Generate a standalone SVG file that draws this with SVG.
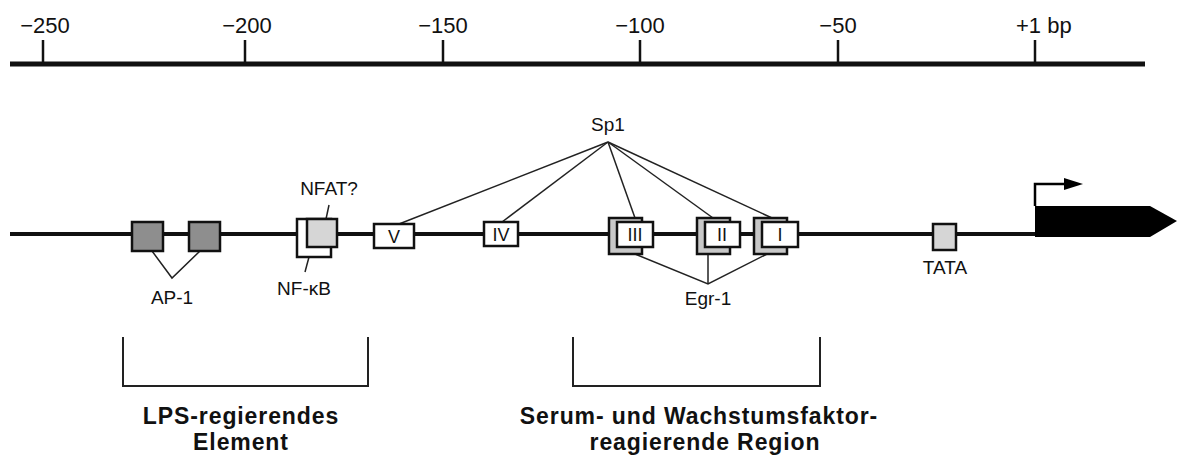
<svg xmlns="http://www.w3.org/2000/svg" width="1177" height="456" viewBox="0 0 1177 456">
<style>
text{font-family:"Liberation Sans",Arial,sans-serif;fill:#111}
.tick{font-size:22px}
.lbl{font-size:19px}
.rom{font-size:18px}
.big{font-size:23px;font-weight:bold;letter-spacing:0.9px}
.box{stroke:#111;stroke-width:2.5}
.thin{stroke:#222;stroke-width:1.5;fill:none}
</style>
<rect width="1177" height="456" fill="#fff"/>
<g id="ruler">
<line x1="10" y1="64" x2="1145" y2="64" stroke="#111" stroke-width="5"/>
<g stroke="#111" stroke-width="2.5">
<line x1="43" y1="40" x2="43" y2="64"/>
<line x1="245" y1="40" x2="245" y2="64"/>
<line x1="443" y1="40" x2="443" y2="64"/>
<line x1="640" y1="40" x2="640" y2="64"/>
<line x1="838" y1="40" x2="838" y2="64"/>
<line x1="1035" y1="40" x2="1035" y2="64"/>
</g>
<g class="tick" text-anchor="middle">
<text x="45" y="33">−250</text>
<text x="247" y="33">−200</text>
<text x="443" y="33">−150</text>
<text x="640" y="33">−100</text>
<text x="838" y="33">−50</text>
</g>
<text class="tick" x="1016" y="33">+1 bp</text>
</g>
<g id="dna">
<line x1="10" y1="234" x2="1037" y2="234" stroke="#111" stroke-width="4"/>
</g>
<g id="connectors">
<polyline class="thin" points="152,251 172,278 200,251"/>
<line class="thin" x1="329" y1="205" x2="326" y2="219"/>
<line class="thin" x1="309" y1="257" x2="305" y2="272"/>
<line class="thin" x1="608" y1="142" x2="399" y2="224"/>
<line class="thin" x1="608" y1="142" x2="502" y2="222"/>
<line class="thin" x1="608" y1="142" x2="635" y2="218"/>
<line class="thin" x1="608" y1="142" x2="713" y2="218"/>
<line class="thin" x1="608" y1="142" x2="772" y2="218"/>
<polyline class="thin" points="635,254 708,284 767,254"/>
<line class="thin" x1="708" y1="254" x2="708" y2="284"/>
</g>
<g id="ap1">
<rect class="box" x="132" y="222" width="31" height="29" fill="#8e8e8e"/>
<rect class="box" x="189" y="222" width="31" height="29" fill="#8e8e8e"/>
<text class="lbl" x="172" y="304" text-anchor="middle">AP-1</text>
</g>
<g id="nfkb">
<rect class="box" x="297" y="219" width="34" height="38" fill="#fff"/>
<text class="lbl" x="304" y="295" text-anchor="middle">NF-κB</text>
</g>
<g id="nfat">
<rect class="box" x="307" y="219" width="30" height="28" fill="#d6d6d6"/>
<text class="lbl" x="329" y="195" text-anchor="middle">NFAT?</text>
</g>
<g id="sp1-label">
<text class="lbl" x="608" y="131" text-anchor="middle">Sp1</text>
</g>
<g id="V">
<rect class="box" x="374" y="224" width="40" height="24" fill="#fff"/>
<text class="rom" x="394" y="243" text-anchor="middle">V</text>
</g>
<g id="IV">
<rect class="box" x="484" y="222" width="34" height="24" fill="#fff"/>
<text class="rom" x="501" y="241" text-anchor="middle">IV</text>
</g>
<g id="III">
<rect class="box" x="609" y="218" width="33" height="36" fill="#c8c8c8"/>
<rect class="box" x="617" y="222" width="36" height="25" fill="#fff"/>
<text class="rom" x="635" y="241" text-anchor="middle">III</text>
</g>
<g id="II">
<rect class="box" x="697" y="218" width="33" height="36" fill="#c8c8c8"/>
<rect class="box" x="705" y="222" width="35" height="25" fill="#fff"/>
<text class="rom" x="722" y="241" text-anchor="middle">II</text>
</g>
<g id="I">
<rect class="box" x="754" y="218" width="33" height="36" fill="#c8c8c8"/>
<rect class="box" x="762" y="222" width="36" height="25" fill="#fff"/>
<text class="rom" x="780" y="241" text-anchor="middle">I</text>
</g>
<g id="egr1">
<text class="lbl" x="708" y="305" text-anchor="middle">Egr-1</text>
</g>
<g id="tata">
<rect class="box" x="933" y="224" width="23" height="26" fill="#d6d6d6"/>
<text class="lbl" x="945" y="274" text-anchor="middle">TATA</text>
</g>
<g id="gene">
<polygon points="1035,206 1150,206 1177,221 1150,237 1035,237" fill="#000"/>
<polyline points="1035,206 1035,184 1066,184" fill="none" stroke="#000" stroke-width="2.5"/>
<polygon points="1064,178 1083,184 1064,190" fill="#000"/>
</g>
<g id="lps">
<polyline points="123,337 123,386 368,386 368,337" fill="none" stroke="#222" stroke-width="2"/>
<text class="big" x="241" y="424" text-anchor="middle">LPS-regierendes</text>
<text class="big" x="241" y="450" text-anchor="middle">Element</text>
</g>
<g id="serum">
<polyline points="573,337 573,386 820,386 820,337" fill="none" stroke="#222" stroke-width="2"/>
<text class="big" x="699" y="424" text-anchor="middle">Serum- und Wachstumsfaktor-</text>
<text class="big" x="705" y="450" text-anchor="middle">reagierende Region</text>
</g>
</svg>
